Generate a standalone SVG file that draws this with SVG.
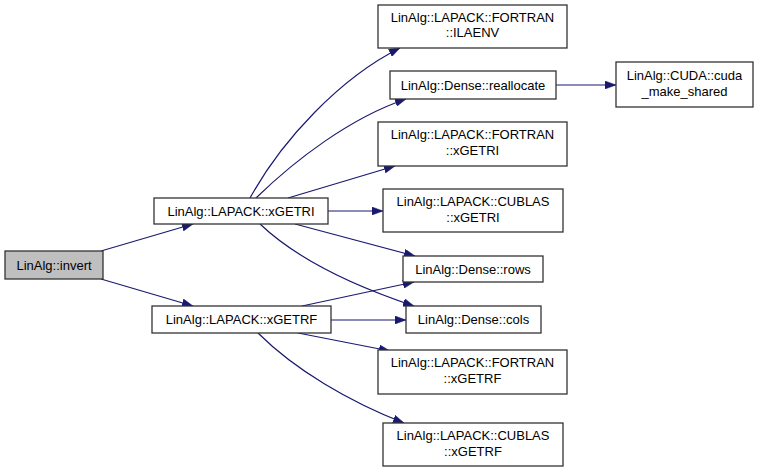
<svg xmlns="http://www.w3.org/2000/svg" width="760" height="472" viewBox="0 0 760 472">
<defs>
<style>
.n rect{fill:#ffffff;stroke:#333333;stroke-width:1.3}
.n.g rect{fill:#bfbfbf}
text{font-family:"Liberation Sans",Arial,sans-serif;font-size:13px;fill:#000;text-anchor:middle}
.e path{fill:none;stroke:#191970;stroke-width:1.2;marker-end:url(#a)}
</style>
<marker id="a" viewBox="0 0 11 8" refX="11" refY="4" markerWidth="11" markerHeight="8" markerUnits="userSpaceOnUse" orient="auto">
<path d="M0,0 L11,4 L0,8 Z" fill="#191970" stroke="#191970" stroke-width="0.5"/>
</marker>
</defs>
<rect width="760" height="472" fill="#ffffff"/>
<g id="edges" class="e">
<path d="M101,251 L193,224"/>
<path d="M101,279 L193,306"/>
<path d="M250,198 C282,140 340,78 400,48"/>
<path d="M256,198 C295,160 350,118 406,99"/>
<path d="M288,198 L395,166"/>
<path d="M328,211 L383,211"/>
<path d="M295,224 L415,256"/>
<path d="M260,224 C300,262 360,288 414,306"/>
<path d="M302,306 L414,282"/>
<path d="M331,320 L406,320"/>
<path d="M298,333 L390,351"/>
<path d="M258,333 C295,370 350,402 404,423"/>
<path d="M556,85 L616,85"/>
</g>
<g id="invert" class="n g"><rect x="5" y="251" width="98" height="28"/><text x="54" y="270">LinAlg::invert</text></g>
<g id="xGETRI" class="n"><rect x="154" y="198" width="174" height="26"/><text x="241" y="216">LinAlg::LAPACK::xGETRI</text></g>
<g id="xGETRF" class="n"><rect x="152" y="306" width="179" height="27"/><text x="241.5" y="324">LinAlg::LAPACK::xGETRF</text></g>
<g id="ILAENV" class="n"><rect x="378" y="5" width="189" height="43"/><text x="472.5" y="22">LinAlg::LAPACK::FORTRAN</text><text x="472.5" y="37">::ILAENV</text></g>
<g id="reallocate" class="n"><rect x="390" y="71" width="166" height="28"/><text x="473" y="90">LinAlg::Dense::reallocate</text></g>
<g id="cuda_make_shared" class="n"><rect x="616" y="62" width="137" height="45"/><text x="684.5" y="80">LinAlg::CUDA::cuda</text><text x="684.5" y="96">_make_shared</text></g>
<g id="FORTRAN_xGETRI" class="n"><rect x="378" y="122" width="189" height="44"/><text x="472.5" y="139">LinAlg::LAPACK::FORTRAN</text><text x="472.5" y="155">::xGETRI</text></g>
<g id="CUBLAS_xGETRI" class="n"><rect x="383" y="189" width="180" height="43"/><text x="473" y="206">LinAlg::LAPACK::CUBLAS</text><text x="473" y="222">::xGETRI</text></g>
<g id="rows" class="n"><rect x="403" y="256" width="140" height="26"/><text x="473" y="274">LinAlg::Dense::rows</text></g>
<g id="cols" class="n"><rect x="406" y="306" width="135" height="27"/><text x="473.5" y="324">LinAlg::Dense::cols</text></g>
<g id="FORTRAN_xGETRF" class="n"><rect x="378" y="350" width="189" height="44"/><text x="472.5" y="367">LinAlg::LAPACK::FORTRAN</text><text x="472.5" y="383">::xGETRF</text></g>
<g id="CUBLAS_xGETRF" class="n"><rect x="383" y="423" width="180" height="43"/><text x="473" y="440">LinAlg::LAPACK::CUBLAS</text><text x="473" y="456">::xGETRF</text></g>
</svg>
